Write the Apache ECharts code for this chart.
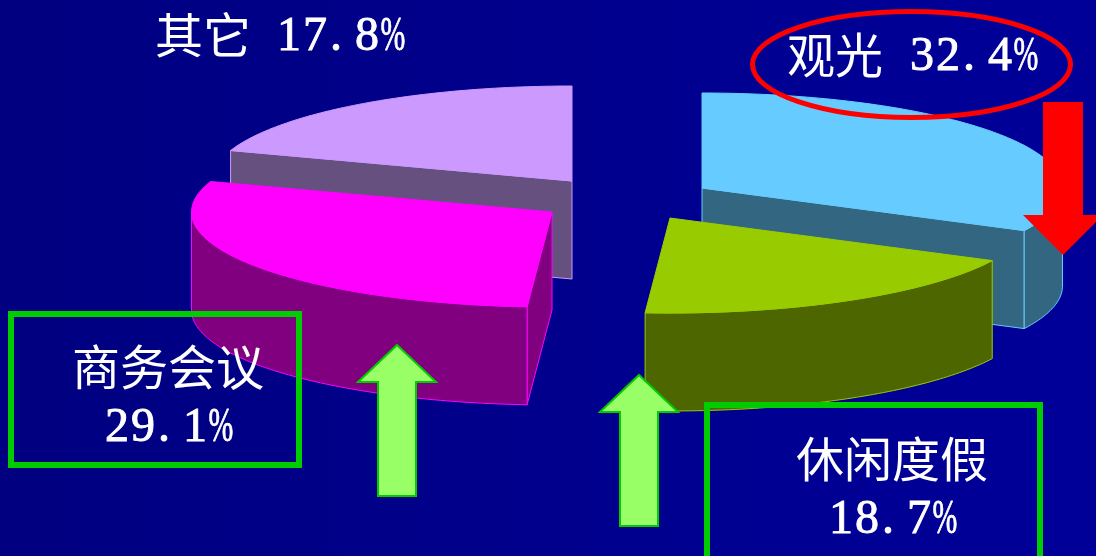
<!DOCTYPE html>
<html>
<head>
<meta charset="utf-8">
<script src="https://cdn.jsdelivr.net/npm/echarts@6/dist/echarts.min.js"></script>
<style>html,body{margin:0;padding:0;background:#00008c}#main{width:1096px;height:556px}</style>
</head>
<body>
<div id="main"></div>
<script>
// Purpose-of-travel shares, clockwise from twelve o'clock.
const categories = ['观光', '休闲度假', '商务会议', '其它'];
const shares = [32.4, 18.7, 29.1, 17.8];

// The labelled shares total 98%; the unlabelled rest closes the circle in the last slice.
const unlabelledShare = 100 - shares.reduce((a, b) => a + b, 0);

// Exploded-pie geometry, in axis units.
const radiusX = 360.5, radiusY = 95, depth = 98;
const apexes = [[702, 188], [670, 218], [552, 212], [572, 181]];
const layers = [0, 1, 1, 0];
const topColors = ['#66ccff', '#99cc00', '#ff00ff', '#cc99ff'];
const sideColors = ['#336680', '#4d6600', '#800080', '#66507f'];

// Text placement: name start, centre of the first number cell, and fixed number cell width.
const cnFont = '48px "Noto Sans CJK SC"';
const numFont = '48px "Liberation Serif"';
const numCell = 26;
const labelSlots = [
  { cn: [787, 55], num: [922, 57] },
  { cn: [796, 459], num: [841, 520] },
  { cn: [72, 367], num: [117, 428] },
  { cn: [155, 35], num: [289, 37] }
];
const boxes = [[11, 314, 288, 151], [707, 405, 333, 154]];
// Each arrow: tip x, tip y, half head width, head height, half shaft width, shaft end y.
const upArrows = [[397, 345, 39, 37, 19, 496], [639, 375, 39, 37, 19, 526]];
const downArrow = [1063, 255, 40, 40, 20, 102];

function arrowPoints(a, dir) {
  const [x, y, hw, hh, sw, end] = a;
  const base = y + dir * hh;
  return [[x, y], [x + hw, base], [x + sw, base], [x + sw, end], [x - sw, end], [x - sw, base], [x - hw, base]];
}

function rimPoint(i, deg, drop) {
  const t = deg * Math.PI / 180;
  return [apexes[i][0] + radiusX * Math.cos(t), apexes[i][1] - radiusY * Math.sin(t) + drop];
}

function sweepOf(i) {
  const last = i === shares.length - 1;
  return (shares[i] + (last ? unlabelledShare : 0)) * 3.6;
}

function renderSlice(params, api) {
  const i = api.value(0);
  const from = 90 - shares.slice(0, i).reduce((a, b) => a + b, 0) * 3.6;
  const to = from - sweepOf(i);
  const px = p => api.coord(p);
  const arc = [];
  for (let d = from; d > to; d -= 1) arc.push(d);
  arc.push(to);

  const z2 = layers[i];
  const apex = apexes[i];
  const apexLow = [apex[0], apex[1] + depth];
  const sideStyle = { fill: sideColors[i], stroke: topColors[i], lineWidth: 1, lineJoin: 'round' };
  const children = [];

  // A cut face is drawn only when its outward normal points at the viewer.
  const addCut = deg => children.push({
    type: 'polygon', z2,
    shape: { points: [apex, rimPoint(i, deg, 0), rimPoint(i, deg, depth), apexLow].map(px) },
    style: sideStyle
  });
  if (Math.cos(from * Math.PI / 180) < -1e-6) addCut(from);
  if (Math.cos(to * Math.PI / 180) > 1e-6) addCut(to);

  // Only the part of the rim facing the viewer has a visible wall.
  const front = arc.filter(d => Math.sin(d * Math.PI / 180) <= 0);
  if (front.length > 1) {
    const upper = front.map(d => rimPoint(i, d, 0));
    const lower = front.slice().reverse().map(d => rimPoint(i, d, depth));
    children.push({
      type: 'polygon', z2,
      shape: { points: upper.concat(lower).map(px) },
      style: sideStyle
    });
  }
  children.push({
    type: 'polygon', z2,
    shape: { points: [apex].concat(arc.map(d => rimPoint(i, d, 0))).map(px) },
    style: { fill: topColors[i], stroke: topColors[i], lineWidth: 1, lineJoin: 'round' }
  });
  return { type: 'group', children };
}

const labelElements = [];
categories.forEach((name, i) => {
  const slot = labelSlots[i];
  labelElements.push({
    type: 'text', z: 20, x: slot.cn[0], y: slot.cn[1],
    style: { text: name, font: cnFont, fill: '#fff', align: 'left', verticalAlign: 'middle' }
  });
  // Numbers sit on a fixed-width grid, one glyph per cell.
  (shares[i].toFixed(1) + '%').split('').forEach((ch, k) => {
    labelElements.push({
      type: 'text', z: 20,
      x: slot.num[0] + k * numCell - (ch === '.' ? 5 : 0),
      y: slot.num[1],
      scaleX: ch === '%' ? 0.62 : 1,
      style: {
        text: ch, font: numFont, fill: '#fff', stroke: '#fff', lineWidth: 0.9,
        align: 'center', verticalAlign: 'middle'
      }
    });
  });
});

const calloutElements = [
  {
    type: 'ellipse', z: 10,
    shape: { cx: 911.5, cy: 64.5, rx: 159, ry: 53 },
    style: { fill: 'none', stroke: '#ff0000', lineWidth: 5 }
  },
  {
    type: 'polygon', z: 11,
    shape: { points: arrowPoints(downArrow, -1) },
    style: { fill: '#ff0000' }
  }
].concat(boxes.map(([x, y, width, height]) => ({
  type: 'rect', z: 11,
  shape: { x, y, width, height },
  style: { fill: 'none', stroke: '#00cc00', lineWidth: 6 }
}))).concat(upArrows.map(a => ({
  type: 'polygon', z: 12,
  shape: { points: arrowPoints(a, 1) },
  style: { fill: '#99ff66', stroke: '#00cc00', lineWidth: 2 }
})));

const chart = echarts.init(document.getElementById('main'), null, { renderer: 'canvas' });
chart.setOption({
  animation: false,
  backgroundColor: {
    type: 'linear', x: 0, y: 0, x2: 1, y2: 0,
    colorStops: [{ offset: 0, color: '#000080' }, { offset: 1, color: '#000099' }]
  },
  grid: { left: 0, right: 0, top: 0, bottom: 0 },
  xAxis: { type: 'value', min: 0, max: 1096, show: false },
  yAxis: { type: 'value', min: 0, max: 556, inverse: true, show: false },
  graphic: calloutElements.concat(labelElements),
  series: [{
    type: 'custom',
    silent: true,
    clip: false,
    renderItem: renderSlice,
    data: shares.map((v, i) => [i, v]),
    encode: { x: 0, y: 1 }
  }]
});
</script>
</body>
</html>
